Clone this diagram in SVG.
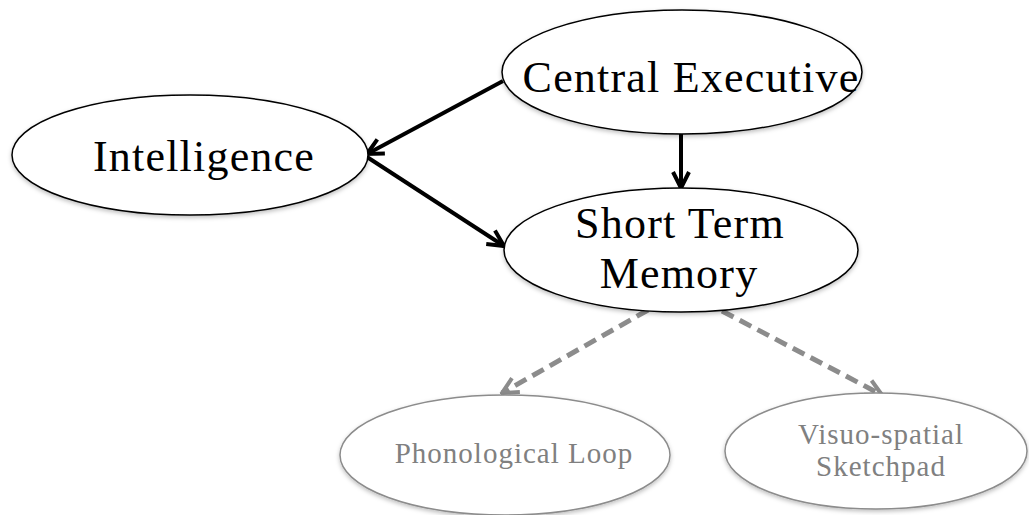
<svg xmlns="http://www.w3.org/2000/svg" width="1029" height="515" viewBox="0 0 1029 515">
<style>
.n{fill:#fff;stroke:#000;stroke-width:1.5}
.g{fill:#fff;stroke:#8c8c8c;stroke-width:1.5}
.t{font-family:"Liberation Serif","DejaVu Serif",serif;font-size:44px;letter-spacing:1.2px;fill:#000;text-anchor:middle}
.tg{font-family:"Liberation Serif","DejaVu Serif",serif;font-size:29px;letter-spacing:1px;fill:#808080;text-anchor:middle}
.c{stroke:#000;stroke-width:4;fill:none}
.d{stroke:#8c8c8c;stroke-width:5;fill:none;stroke-dasharray:13 7}
</style>
<defs>
<filter id="sh" x="-10%" y="-10%" width="120%" height="130%">
<feDropShadow dx="0" dy="2" stdDeviation="2" flood-color="#000" flood-opacity="0.25"/>
</filter>
<marker id="a" viewBox="0 0 10 10" refX="9" refY="5" markerWidth="5" markerHeight="5" orient="auto" markerUnits="strokeWidth">
<path d="M1,1 L9,5 L1,9" fill="none" stroke="#000" stroke-width="2"/>
</marker>
<marker id="ag" viewBox="0 0 10 10" refX="9" refY="5" markerWidth="4" markerHeight="4" orient="auto" markerUnits="strokeWidth">
<path d="M1,1 L9,5 L1,9" fill="none" stroke="#8c8c8c" stroke-width="2"/>
</marker>
</defs>
<g id="connectors">
<line class="c" x1="503" y1="81" x2="367" y2="154" marker-end="url(#a)"/>
<line class="c" x1="681" y1="133" x2="681" y2="188" marker-end="url(#a)"/>
<line class="c" x1="367" y1="157" x2="504" y2="246" marker-end="url(#a)"/>
<line class="d" x1="648" y1="310" x2="502" y2="393" marker-end="url(#ag)"/>
<line class="d" x1="722" y1="311" x2="882" y2="395" marker-end="url(#ag)"/>
</g>
<g id="intelligence">
<ellipse class="n" cx="190" cy="155" rx="178" ry="60" filter="url(#sh)"/>
<text class="t" x="204" y="171">Intelligence</text>
</g>
<g id="central-executive">
<ellipse class="n" cx="682" cy="72" rx="180" ry="62" filter="url(#sh)"/>
<text class="t" x="691" y="92">Central Executive</text>
</g>
<g id="short-term-memory">
<ellipse class="n" cx="681" cy="250" rx="177" ry="62" filter="url(#sh)"/>
<text class="t" x="680" y="238">Short Term</text>
<text class="t" x="679" y="288">Memory</text>
</g>
<g id="phonological-loop">
<ellipse class="g" cx="505" cy="455" rx="165" ry="60" filter="url(#sh)"/>
<text class="tg" x="514" y="463">Phonological Loop</text>
</g>
<g id="visuo-spatial">
<ellipse class="g" cx="876" cy="451" rx="151" ry="58" filter="url(#sh)"/>
<text class="tg" x="881" y="444">Visuo-spatial</text>
<text class="tg" x="881" y="476">Sketchpad</text>
</g>
</svg>
